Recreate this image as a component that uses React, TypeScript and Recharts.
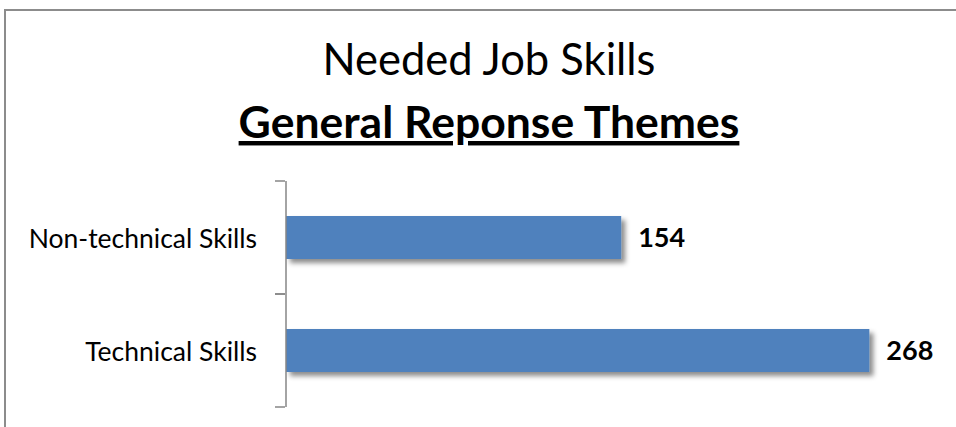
import React from "react";
import { BarChart, Bar, XAxis, YAxis, LabelList } from "recharts";

const categories = ["Non-technical Skills", "Technical Skills"];
const counts = [154, 268];
const titleLine1 = "Needed Job Skills";
const titleLine2 = "General Reponse Themes";

const data = categories.map((name, i) => ({ name, value: counts[i] }));

const FONT = "Lato, 'Open Sans', sans-serif";

const ShadowBar = (props: any) => {
  const { x, y, width, height, fill } = props;
  return (
    <g>
      <defs>
        <filter id="barShadow" x="-10%" y="-30%" width="130%" height="180%">
          <feDropShadow dx="4" dy="4" stdDeviation="2.5" floodColor="#000" floodOpacity="0.45" />
        </filter>
      </defs>
      <rect x={x} y={y} width={width} height={height} fill={fill} filter="url(#barShadow)" />
    </g>
  );
};

const CategoryTick = (props: any) => {
  const { x, y, payload } = props;
  const half = payload && payload.offset ? payload.offset : 56;
  return (
    <g>
      <line x1={x - 11} x2={x - 1} y1={y - half} y2={y - half} stroke="#868686" strokeWidth={1.5} />
      <line x1={x - 11} x2={x - 1} y1={y + half} y2={y + half} stroke="#868686" strokeWidth={1.5} />
      <text x={x - 29} y={y} textAnchor="end" dominantBaseline="central" fontFamily={FONT} fontSize={26.5} fill="#000">
        {payload.value}
      </text>
    </g>
  );
};

export default function App() {
  return (
    <div style={{ position: "absolute", left: 0, top: 0, width: 956, height: 427, background: "#fff", overflow: "hidden" }}>
      <div
        style={{
          position: "absolute",
          left: 4,
          top: 9,
          width: 960,
          height: 430,
          borderTop: "2px solid #8c8c8c",
          borderLeft: "2px solid #8c8c8c",
          boxSizing: "border-box",
        }}
      />
      <svg style={{ position: "absolute", left: 0, top: 0 }} width={956} height={170}>
        <text x={489} y={75} textAnchor="middle" fontFamily={FONT} fontSize={43.5} fill="#000">
          {titleLine1}
        </text>
        <text x={489} y={138} textAnchor="middle" fontFamily={FONT} fontSize={44.5} fontWeight="bold" fill="#000" textDecoration="underline">
          {titleLine2}
        </text>
      </svg>
      <div style={{ position: "absolute", left: 0, top: 0 }}>
        <BarChart
          width={956}
          height={427}
          data={data}
          layout="vertical"
          margin={{ top: 181, right: 17, bottom: 20, left: 0 }}
          barCategoryGap="19%"
        >
          <XAxis type="number" domain={[0, 300]} hide />
          <YAxis
            type="category"
            dataKey="name"
            width={286}
            axisLine={{ stroke: "#868686", strokeWidth: 1.5 }}
            tickLine={false}
            tickSize={0}
            tickMargin={0}
            tick={<CategoryTick />}
          />
          <Bar dataKey="value" fill="#4F81BD" barSize={43} isAnimationActive={false} shape={<ShadowBar />}>
            <LabelList
              dataKey="value"
              position="right"
              offset={17}
              fill="#000"
              fontFamily={FONT}
              fontWeight="bold"
              fontSize={27}
            />
          </Bar>
        </BarChart>
      </div>
    </div>
  );
}
